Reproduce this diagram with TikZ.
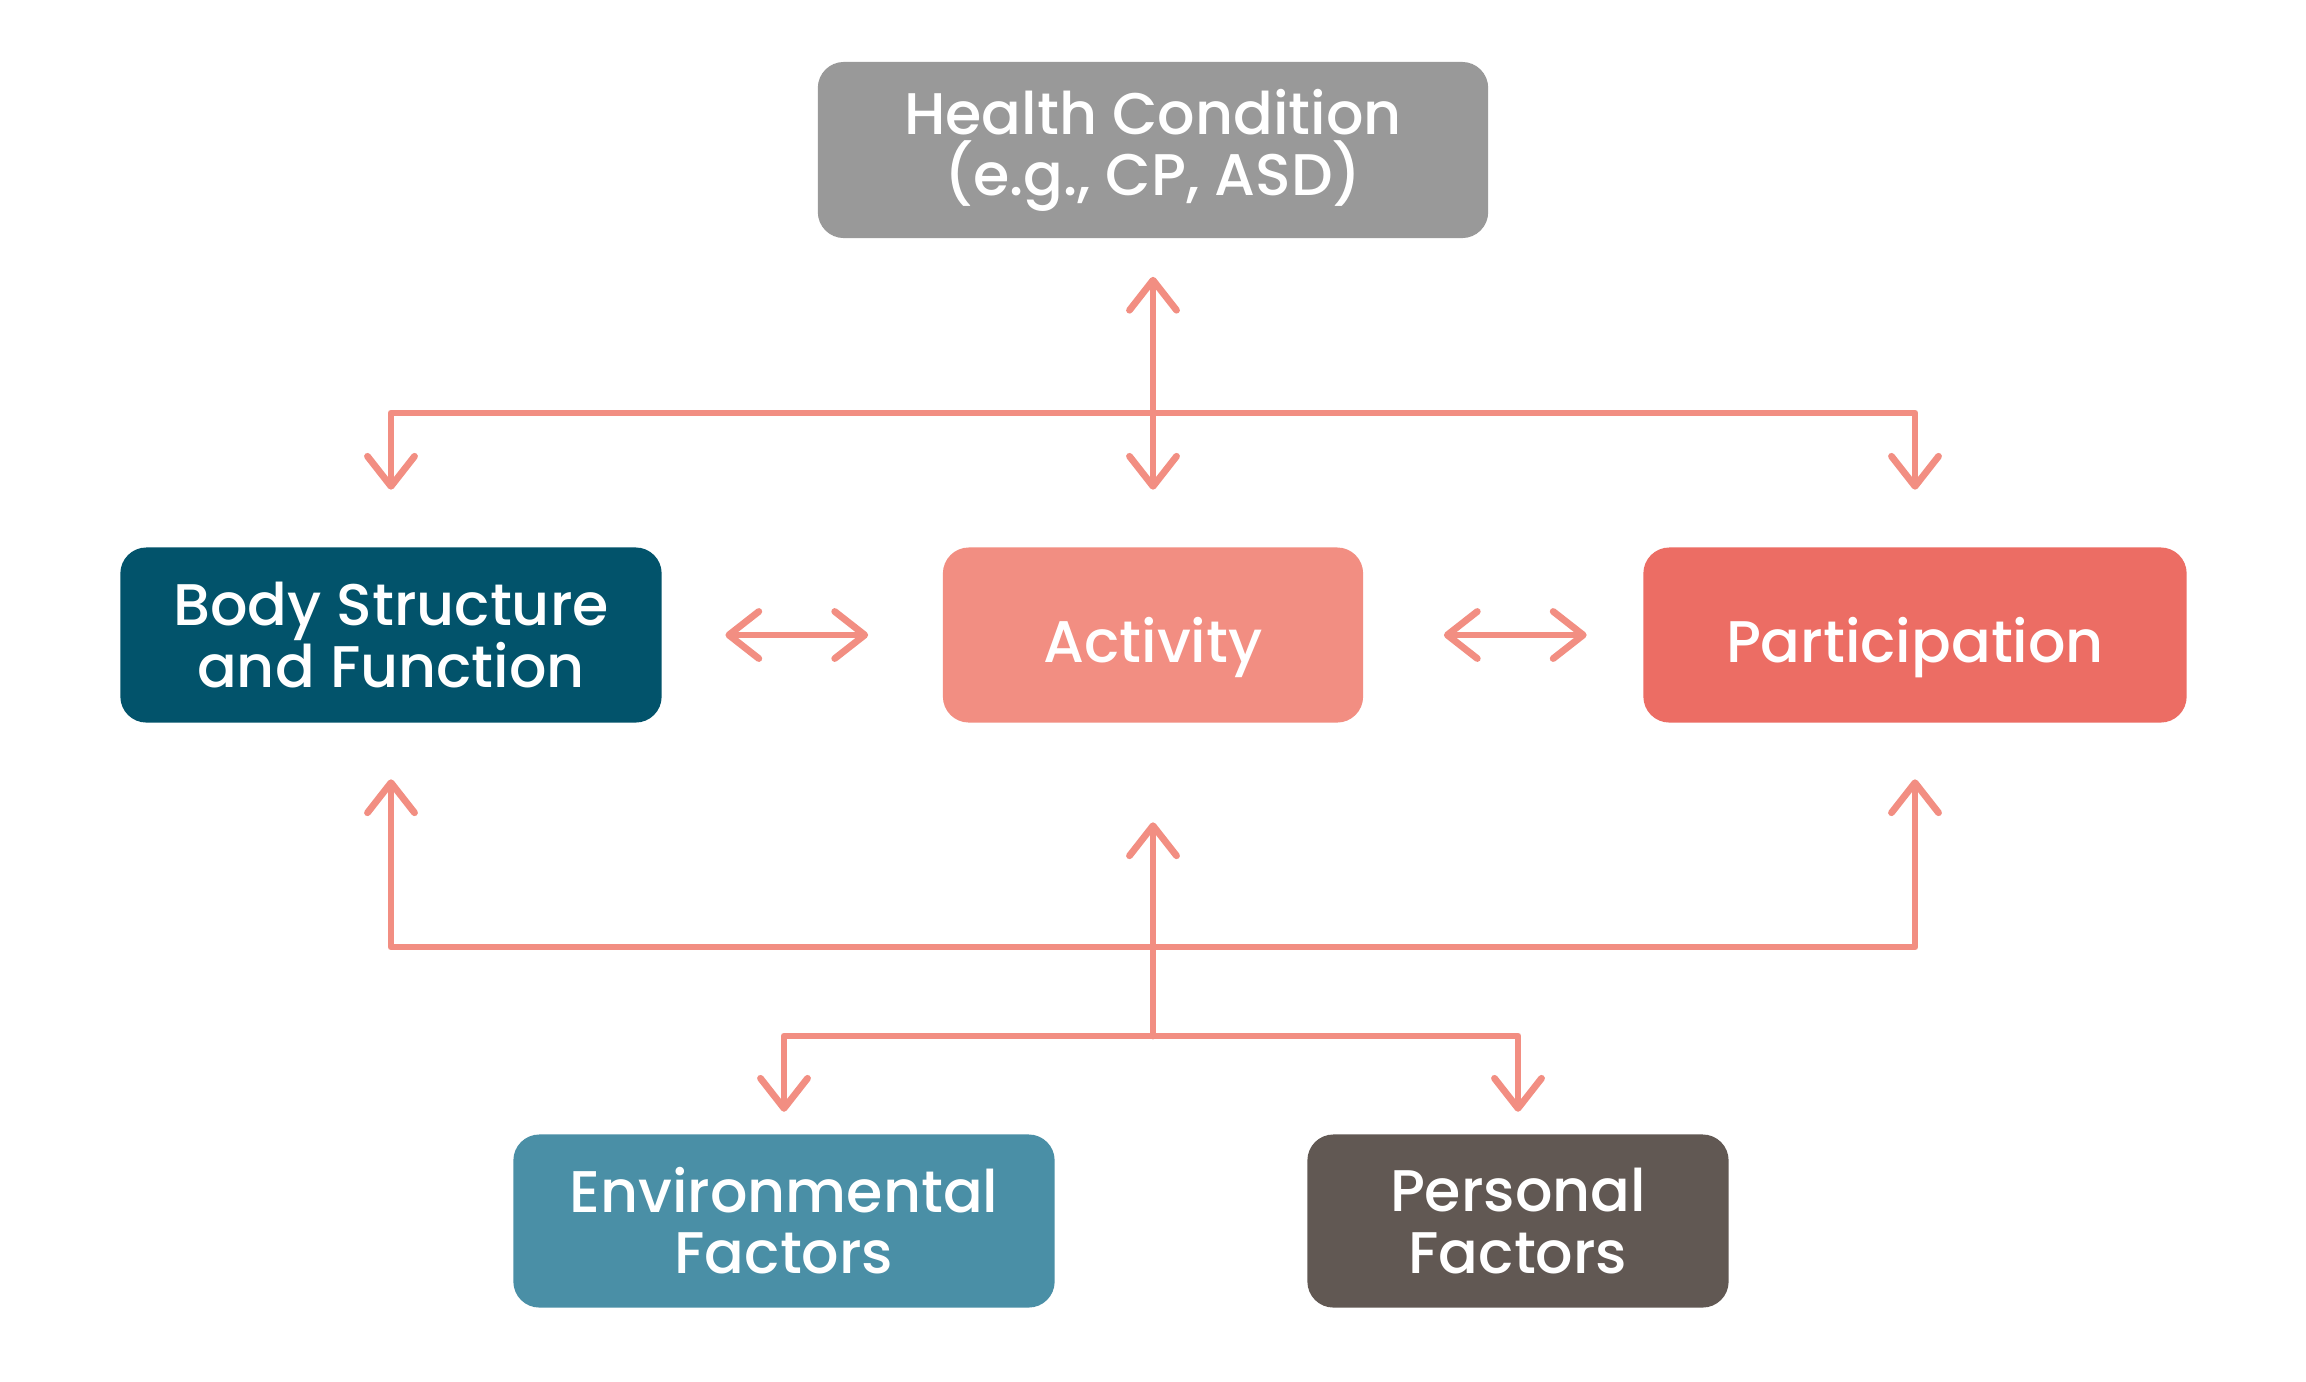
\documentclass[tikz,border=0pt]{standalone}
\usepackage{fontspec}
\setmainfont{Poppins}[UprightFont=* Medium, BoldFont=* SemiBold]
\usetikzlibrary{arrows.meta}
\definecolor{linec}{HTML}{F28E82}
\definecolor{hcc}{HTML}{999999}
\definecolor{bodyc}{HTML}{02536B}
\definecolor{actc}{HTML}{F28E82}
\definecolor{partc}{HTML}{EC6D64}
\definecolor{envc}{HTML}{4A8FA6}
\definecolor{persc}{HTML}{615853}
\begin{document}
\begin{tikzpicture}[x=0.01cm,y=-0.01cm,
  box/.style={rounded corners=0.26cm, text=white, align=center, inner sep=0pt,
    font=\fontsize{16.7pt}{17.4pt}\selectfont},
  oneline/.style={text height=15.4pt, text depth=0pt},
  conn/.style={draw=linec, line width=0.068cm, line join=round, line cap=round,
    arrows={-Straight Barb[length=0.3cm, width=0.47cm, line cap=round, line join=round]}},
  conn2/.style={conn, arrows={Straight Barb[length=0.3cm, width=0.47cm, line cap=round, line join=round]-Straight Barb[length=0.3cm, width=0.47cm, line cap=round, line join=round]}}
]
\useasboundingbox[fill=white] (0,0) rectangle (2306,1381);

\node[box, fill=hcc, minimum width=6.70cm, minimum height=1.76cm] (hc) at (1153,150) {Health Condition\\(e.g., CP, ASD)};
\node[box, fill=bodyc, minimum width=5.41cm, minimum height=1.75cm] (body) at (391,635) {Body Structure\\and Function};
\node[box, oneline, fill=actc, minimum width=4.20cm, minimum height=1.75cm] (act) at (1153,635) {Activity};
\node[box, oneline, fill=partc, minimum width=5.43cm, minimum height=1.75cm] (part) at (1915,635) {Participation};
\node[box, fill=envc, minimum width=5.41cm, minimum height=1.73cm] (env) at (784,1221) {Environmental\\Factors};
\node[box, fill=persc, minimum width=4.21cm, minimum height=1.73cm] (pers) at (1518,1221) {Personal\\Factors};

\coordinate (bt) at (1153,413);
\coordinate (bb) at (1153,947);
\coordinate (lb) at (1153,1036);

% top
\draw[conn2] ([yshift=-0.38cm]hc.south) -- ([yshift=0.57cm]act.north);
\draw[conn] (bt) -| ([yshift=0.57cm]body.north);
\draw[conn] (bt) -| ([yshift=0.57cm]part.north);
% middle row
\draw[conn2] ([xshift=0.63cm]body.east) -- ([xshift=-0.74cm]act.west);
\draw[conn2] ([xshift=0.80cm]act.east) -- ([xshift=-0.56cm]part.west);
% bottom
\draw[conn] (bb) -| ([yshift=-0.56cm]body.south);
\draw[conn] (bb) -| ([yshift=-0.56cm]part.south);
\draw[conn] (lb) -- ([yshift=-0.99cm]act.south);
\draw[conn] (lb) -| ([yshift=0.22cm]env.north);
\draw[conn] (lb) -| ([yshift=0.22cm]pers.north);
\end{tikzpicture}
\end{document}
